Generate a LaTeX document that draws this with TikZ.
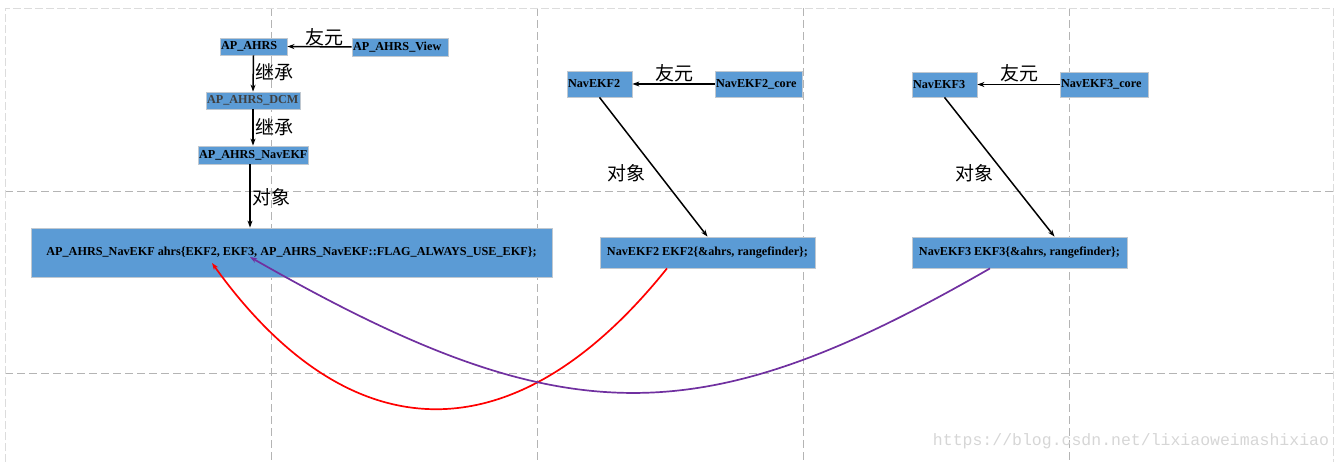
\documentclass[tikz,border=0pt]{standalone}
\usepackage{fontspec}
\setmainfont{Liberation Serif}
\newfontfamily\cjk{Noto Sans CJK SC}
\newfontfamily\monof{Liberation Mono}
\usetikzlibrary{arrows.meta,calc}
\definecolor{boxblue}{HTML}{5B9BD5}
\definecolor{gridgray}{HTML}{B4B4B4}
\definecolor{bordergray}{HTML}{DCDCDC}
\definecolor{edgegray}{HTML}{C0C8D0}
\definecolor{purp}{HTML}{7030A0}
\definecolor{wm}{HTML}{D6D6D6}
\begin{document}
\begin{tikzpicture}[x=1pt,y=-1pt,
  box/.style={fill=boxblue, draw=edgegray, line width=0.8pt, inner sep=1pt,
    font=\bfseries\fontsize{12.2}{12.2}\selectfont, text=black},
  lbox/.style={box, align=left},
  cbox/.style={box, align=center},
  lab/.style={font=\cjk\fontsize{19}{19}\selectfont, text=black, inner sep=0pt},
  conn/.style={-{Stealth[length=7pt,width=5pt]}, line width=1.5pt, black},
  gridline/.style={gridgray, line width=0.8pt, dash pattern=on 8pt off 4pt},
  borderline/.style={bordergray, line width=0.8pt, dash pattern=on 8pt off 3pt},
  curve/.style={line width=1.7pt, -{Stealth[length=7pt,width=5pt]}}
]
\useasboundingbox (0,0) rectangle (1343,462);
% background grid
\foreach \x in {271,537,803,1069} \draw[gridline] (\x,8) -- (\x,462);
\foreach \y in {191,373} \draw[gridline] (5,\y) -- (1333,\y);
\draw[borderline] (5,462) -- (5,8) -- (1333,8) -- (1333,462);

% boxes
\node[lbox, text width=65pt, minimum height=17pt] (apahrs) at (253.5,46.5) {AP\_AHRS};
\node[lbox, text width=94pt, minimum height=18pt] (view) at (400,47) {AP\_AHRS\_View};
\node[lbox, text width=92pt, minimum height=17pt, text=black!75] (dcm) at (253,100.5) {AP\_AHRS\_DCM};
\node[lbox, text width=108pt, minimum height=18pt] (navekf) at (253,155) {AP\_AHRS\_NavEKF};
\node[cbox, minimum width=521pt, minimum height=49pt] (big) at (291.5,252.5) {AP\_AHRS\_NavEKF ahrs\{EKF2, EKF3, AP\_AHRS\_NavEKF::FLAG\_ALWAYS\_USE\_EKF\};};

\node[lbox, text width=63pt, minimum height=26pt] (nav2) at (599.5,84) {NavEKF2};
\node[lbox, text width=85pt, minimum height=26pt] (nav2c) at (758.5,84) {NavEKF2\_core};
\node[cbox, minimum width=215pt, minimum height=31pt] (ekf2) at (707.5,252.5) {NavEKF2 EKF2\{\&ahrs, rangefinder\};};

\node[lbox, text width=63pt, minimum height=25pt] (nav3) at (944.5,84.5) {NavEKF3};
\node[lbox, text width=86pt, minimum height=25pt] (nav3c) at (1104,84.5) {NavEKF3\_core};
\node[cbox, minimum width=215pt, minimum height=31pt] (ekf3) at (1019.5,252.5) {NavEKF3 EKF3\{\&ahrs, rangefinder\};};

% connectors
\draw[conn] (view.west) -- (apahrs.east);
\draw[conn] (apahrs.south) -- (dcm.north);
\draw[conn] (dcm.south) -- (navekf.north);
\draw[conn] ($(navekf.south)+(-3,0)$) -- ($(navekf.south |- big.north)+(-3,0)$);
\draw[conn] (nav2c.west) -- (nav2.east);
\draw[conn] (nav2.south) -- (ekf2.north);
\draw[conn] (nav3c.west) -- (nav3.east);
\draw[conn] (nav3.south) -- ($(ekf3.north)+(35,0)$);

% labels
\node[lab] (l1) at (324,37) {友元};
\node[lab] (l2) at (274,72) {继承};
\node[lab] (l3) at (274,127) {继承};
\node[lab] (l4) at (271,197) {对象};
\node[lab] (l5) at (674,73) {友元};
\node[lab] (l6) at (626,173) {对象};
\node[lab] (l7) at (1019,73) {友元};
\node[lab] (l8) at (974,173) {对象};

% curves
\coordinate (rs) at ($(ekf2.south)+(-40.5,0)$);
\coordinate (rt) at (212,263);
\coordinate (ps) at ($(ekf3.south)+(-29.5,0)$);
\coordinate (pt) at (250,257);
\draw[curve, red] (rs) .. controls (515,458) and (350,455) .. (rt);
\draw[curve, purp] (ps) .. controls (699,436) and (563,436) .. (pt);

% watermark
\node[font=\monof\fontsize{16.5}{16.5}\selectfont, text=wm, inner sep=0pt] (wmk) at (1131,441) {https://blog.csdn.net/lixiaoweimashixiao};
\end{tikzpicture}
\end{document}
